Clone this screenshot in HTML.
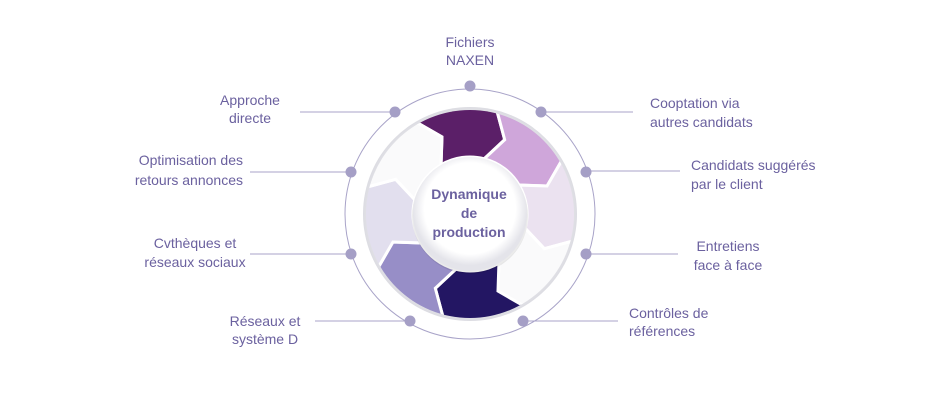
<!DOCTYPE html>
<html><head><meta charset="utf-8">
<style>
html,body{margin:0;padding:0;background:#fff;}
body{width:950px;height:400px;overflow:hidden;}
svg text{font-family:"Liberation Sans","DejaVu Sans",sans-serif;font-size:14px;fill:#6b619f;}
</style></head><body>
<svg width="950" height="400" viewBox="0 0 950 400" xmlns="http://www.w3.org/2000/svg">
<defs>
<radialGradient id="disk" cx="50%" cy="50%" r="50%">
<stop offset="0.75" stop-color="#fbfbfc"/><stop offset="1" stop-color="#dcdce2"/>
</radialGradient>
<radialGradient id="ctr" cx="50%" cy="45%" r="50%">
<stop offset="0.8" stop-color="#ffffff"/><stop offset="1" stop-color="#e4e4ea"/>
</radialGradient>
<clipPath id="clip"><circle cx="470" cy="214" r="104"/></clipPath>
<path id="seg" d="M -40.9,-98.9 A107 107 0 0 1 40.9,-98.9 L44.7,-68.8 L21.8,-52.7 A57 57 0 0 0 -21.8,-52.7 L-17,-80.2 Z" stroke="#fff" stroke-width="3" stroke-linejoin="miter"/>
</defs>
<g stroke="#a8a3c8" stroke-width="1" fill="none">
<circle cx="470" cy="214" r="125"/>
<line x1="300" y1="112" x2="395" y2="112"/>
<line x1="250" y1="172" x2="351" y2="172"/>
<line x1="250" y1="254" x2="351" y2="254"/>
<line x1="315" y1="321" x2="410" y2="321"/>
<line x1="541" y1="112" x2="633" y2="112"/>
<line x1="586" y1="171" x2="680" y2="171"/>
<line x1="586" y1="254" x2="678" y2="254"/>
<line x1="523" y1="321" x2="618" y2="321"/>
</g>
<g fill="#a59fc6">
<circle cx="470" cy="86" r="5.5"/><circle cx="395" cy="112" r="5.5"/><circle cx="541" cy="112" r="5.5"/>
<circle cx="351" cy="172" r="5.5"/><circle cx="586" cy="172" r="5.5"/><circle cx="351" cy="254" r="5.5"/>
<circle cx="586" cy="254" r="5.5"/><circle cx="410" cy="321" r="5.5"/><circle cx="523" cy="321" r="5.5"/>
</g>
<circle cx="470" cy="214" r="107" fill="url(#disk)"/>
<g clip-path="url(#clip)">
<g transform="translate(470,214) rotate(-8)">
<use href="#seg" fill="#5b1f68" transform="rotate(0)"/>
<use href="#seg" fill="#cfa6da" transform="rotate(45)"/>
<use href="#seg" fill="#ebe2f0" transform="rotate(90)"/>
<use href="#seg" fill="#fafafb" transform="rotate(135)"/>
<use href="#seg" fill="#231663" transform="rotate(180)"/>
<use href="#seg" fill="#978ec7" transform="rotate(225)"/>
<use href="#seg" fill="#e2dfee" transform="rotate(270)"/>
<use href="#seg" fill="#fafafb" transform="rotate(315)"/>
</g>
</g>
<circle cx="470" cy="216" r="58" fill="#000" opacity="0.08"/>
<circle cx="470" cy="214" r="57" fill="url(#ctr)"/>
<g text-anchor="middle">
<text x="469" y="199" style="font-weight:bold">Dynamique</text>
<text x="469" y="218" style="font-weight:bold">de</text>
<text x="469" y="237" style="font-weight:bold">production</text>
</g>
<g text-anchor="middle">
<text x="470" y="47">Fichiers</text><text x="470" y="65">NAXEN</text>
<text x="195" y="248">Cvthèques et</text><text x="195" y="267">réseaux sociaux</text>
<text x="265" y="326">Réseaux et</text><text x="265" y="344">système D</text>
<text x="728" y="251">Entretiens</text><text x="728" y="270">face à face</text>
<text x="250" y="105">Approche</text><text x="250" y="123">directe</text>
</g>
<g text-anchor="end">
<text x="243" y="165">Optimisation des</text><text x="243" y="185">retours annonces</text>
</g>
<g>
<text x="650" y="108">Cooptation via</text><text x="650" y="127">autres candidats</text>
<text x="691" y="170">Candidats suggérés</text><text x="691" y="189">par le client</text>
<text x="629" y="318">Contrôles de</text><text x="629" y="336">références</text>
</g>
</svg>
</body></html>
